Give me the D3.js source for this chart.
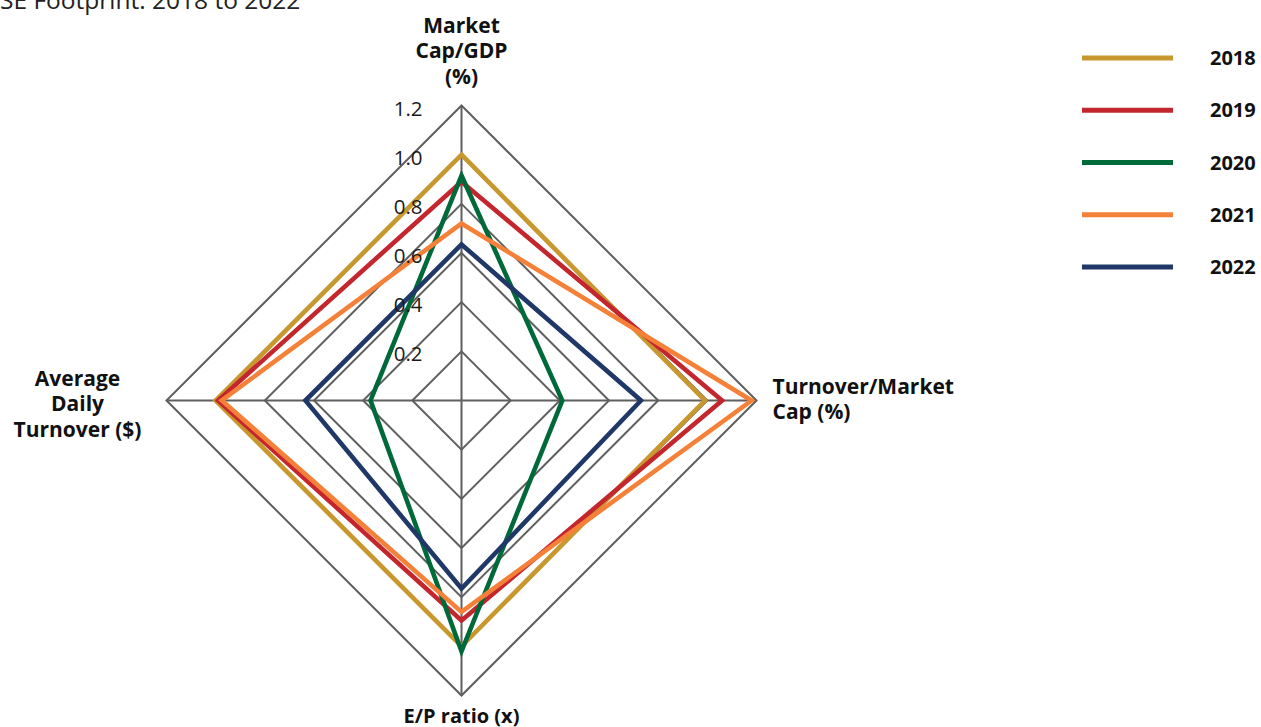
<!DOCTYPE html>
<html>
<head>
<meta charset="utf-8">
<script src="https://cdn.jsdelivr.net/npm/d3@7"></script>
<style>
  html, body { margin: 0; padding: 0; background: #fff; }
  svg { display: block; font-family: "Open Sans", sans-serif; }
</style>
</head>
<body>
<svg id="chart" width="1261" height="727"></svg>
<script>
// Radar axes, clockwise from the top
const categories = [
  ["Market", "Cap/GDP", "(%)"],
  ["Turnover/Market", "Cap (%)"],
  ["E/P ratio (x)"],
  ["Average", "Daily", "Turnover ($)"]
];
const years = ["2018", "2019", "2020", "2021", "2022"];
const colors = ["#C8982F", "#C4262E", "#00693A", "#F58037", "#1F3868"];

// One value per axis (top, right, bottom, left)
const v2018 = [1.00, 0.99, 1.00, 1.00];
const v2019 = [0.89, 1.06, 0.895, 0.99];
const v2020 = [0.915, 0.41, 1.02, 0.37];
const v2021 = [0.72, 1.18, 0.86, 0.975];
const v2022 = [0.635, 0.73, 0.765, 0.635];
const seriesValues = [v2018, v2019, v2020, v2021, v2022];

const ticks = [0.2, 0.4, 0.6, 0.8, 1.0, 1.2];
const tickLabels = ["0.2", "0.4", "0.6", "0.8", "1.0", "1.2"];

const svg = d3.select("#chart");
const cx = 461.5, cy = 400.5;
const r = d3.scaleLinear().domain([0, 1.2]).range([0, 295]);
const angle = d3.scalePoint().domain(d3.range(categories.length + 1)).range([0, 2 * Math.PI]);
const radial = d3.lineRadial()
  .angle((d, i) => angle(i))
  .radius(d => r(d))
  .curve(d3.curveLinearClosed);

const g = svg.append("g").attr("transform", `translate(${cx},${cy})`);

// Grid rings
g.selectAll("path.ring")
  .data(ticks)
  .join("path")
  .attr("class", "ring")
  .attr("d", t => radial(categories.map(() => t)))
  .attr("fill", "none")
  .attr("stroke", "#5f5f5f")
  .attr("stroke-width", 2);

// Spokes
g.selectAll("line.spoke")
  .data(categories)
  .join("line")
  .attr("class", "spoke")
  .attr("x1", 0).attr("y1", 0)
  .attr("x2", (d, i) => r(1.2) * Math.sin(angle(i)))
  .attr("y2", (d, i) => -r(1.2) * Math.cos(angle(i)))
  .attr("stroke", "#5f5f5f")
  .attr("stroke-width", 2);

// Series outlines
g.selectAll("path.series")
  .data(seriesValues)
  .join("path")
  .attr("class", "series")
  .attr("d", d => radial(d))
  .attr("fill", "none")
  .attr("stroke", (d, i) => colors[i])
  .attr("stroke-width", 4.6)
  .attr("stroke-linejoin", "miter");

// Tick labels along the top spoke
g.selectAll("text.tick")
  .data(ticks)
  .join("text")
  .attr("class", "tick")
  .attr("x", -39)
  .attr("y", t => -r(t) + 10)
  .attr("text-anchor", "end")
  .attr("font-size", 20.5)
  .attr("fill", "#1a1a1a")
  .text((t, i) => tickLabels[i]);

// Axis labels
const lh = 25.5;
const axisLabelPos = [
  { x: 0, y: -368, anchor: "middle", size: 21 },
  { x: 311, y: -7, anchor: "start", size: 21 },
  { x: 0, y: 322, anchor: "middle", size: 20 },
  { x: -384, y: -15, anchor: "middle", size: 21 }
];
categories.forEach((lines, i) => {
  const p = axisLabelPos[i];
  const t = g.append("text").attr("text-anchor", p.anchor)
    .attr("font-size", p.size).attr("font-weight", 700).attr("fill", "#111");
  lines.forEach((ln, j) => {
    t.append("tspan").attr("x", p.x).attr("y", p.y + j * lh).text(ln);
  });
});

// Legend
const legend = svg.append("g").attr("transform", "translate(1082,58)");
const legendY = d3.scalePoint().domain(years).range([0, 209]);
years.forEach((y, i) => {
  const row = legend.append("g").attr("transform", `translate(0,${legendY(y)})`);
  row.append("line").attr("x1", 0).attr("x2", 91).attr("y1", 0).attr("y2", 0)
    .attr("stroke", colors[i]).attr("stroke-width", 5);
  row.append("text").attr("x", 128).attr("y", 7).attr("font-size", 20)
    .attr("font-weight", 700).attr("fill", "#111").text(y);
});

// Title (runs off the left edge)
const titleSize = 24.5;
const title = svg.append("text").attr("y", 9).attr("font-size", titleSize).attr("fill", "#222")
  .text("JSE Footprint: 2018 to 2022");
const probe = svg.append("text").attr("font-size", titleSize).text("J");
const jw = probe.node().getComputedTextLength();
probe.remove();
title.attr("x", -jw);
</script>
</body>
</html>
